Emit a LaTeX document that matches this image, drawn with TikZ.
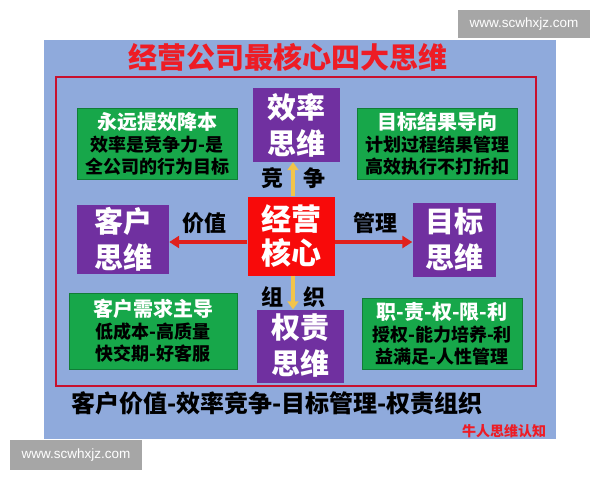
\documentclass[tikz,border=0pt]{standalone}
\usepackage{fontspec}
\setmainfont{Noto Sans CJK SC}
\newfontfamily\webfont{Liberation Sans}
\usetikzlibrary{arrows.meta}

\definecolor{panelblue}{HTML}{8FAADC}
\definecolor{framered}{HTML}{C8102E}
\definecolor{titlered}{HTML}{EE1C25}
\definecolor{thinkpurple}{HTML}{7030A0}
\definecolor{notegreen}{HTML}{17A74A}
\definecolor{corered}{HTML}{F80A0A}
\definecolor{arrowred}{HTML}{E0201C}
\definecolor{arrowgold}{HTML}{F2C44A}
\definecolor{webgray}{HTML}{A6A6A6}

\begin{document}
\begin{tikzpicture}[x=1pt,y=-1pt,
        think/.style={fill=thinkpurple,text=white,align=center,inner sep=0pt,
            minimum width=87pt,minimum height=74pt,font=\bfseries\fontsize{29}{36}\selectfont},
        core/.style={fill=corered,text=white,align=center,inner sep=0pt,
            minimum width=87pt,minimum height=79pt,font=\bfseries\fontsize{30}{34}\selectfont},
        note/.style={fill=notegreen,draw=notegreen!75!black,line width=0.6pt,align=center,
            inner sep=0pt,minimum width=160pt,minimum height=71pt,font=\bfseries\fontsize{18}{22}\selectfont},
        tag/.style={font=\bfseries\fontsize{22}{24}\selectfont},
        side/.style={-{Triangle[length=10pt,width=12pt]},line width=4pt,arrowred},
        vert/.style={-{Triangle[length=8pt,width=11pt]},line width=4pt,arrowgold},
        web/.style={fill=webgray,text=white,inner sep=0pt,font=\webfont\fontsize{13.5}{15}\selectfont}
    ]
        \useasboundingbox (0,0) rectangle (600,480);

        % Background and frame
        \fill[white] (0,0) rectangle (600,480);
        \fill[panelblue] (44,40) rectangle (556,439);
        \draw[framered,line width=2pt] (56,77) rectangle (536,386);

        % Title
        \node[text=titlered,font=\bfseries\fontsize{29}{31}\selectfont] (title) at (288,57) {经营公司最核心四大思维};

        % Define the nodes
        \node[think] (eff) at (296,125) {效率\\思维};
        \node[core] (center) at (291,236) {经营\\核心};
        \node[think,minimum width=92pt,minimum height=69pt] (cust) at (123,239) {客户\\思维};
        \node[think,minimum width=83pt] (goal) at (454,240) {目标\\思维};
        \node[think,minimum height=73pt] (auth) at (300,346) {权责\\思维};

        % Notes
        \node[note] (effnote) at (157,144) {{\color{white}\fontsize{20}{22}\selectfont 永远提效降本}\\效率是竞争力-是\\全公司的行为目标};
        \node[note] (goalnote) at (437,144) {{\color{white}\fontsize{20}{22}\selectfont 目标结果导向}\\计划过程结果管理\\高效执行不打折扣};
        \node[note,minimum width=168pt,minimum height=76pt] (custnote) at (153,331) {{\color{white}\fontsize{20}{22}\selectfont 客户需求主导}\\低成本-高质量\\快交期-好客服};
        \node[note] (authnote) at (442,334) {{\color{white}\fontsize{20}{22}\selectfont 职-责-权-限-利}\\授权-能力培养-利\\益满足-人性管理};

        % Draw the links
        \draw[side] ([yshift=-6pt]center.west) -- ([yshift=-6pt]center.west -| cust.east);
        \draw[side] ([yshift=-6pt]center.east) -- ([yshift=-6pt]center.east -| goal.west);
        \draw[vert] ([xshift=2pt]center.north) -- ([xshift=2pt]center.north |- eff.south);
        \draw[vert] ([xshift=2pt]center.south) -- ([xshift=2pt]center.south |- auth.north);

        % Link labels
        \node[tag] (compA) at (272,178) {竞};
        \node[tag] (compB) at (314,178) {争};
        \node[tag] (value) at (204,223) {价值};
        \node[tag] (manage) at (375,223) {管理};
        \node[tag] (orgA) at (272,297) {组};
        \node[tag] (orgB) at (314,297) {织};

        % Footer
        \node[font=\bfseries\fontsize{24}{26}\selectfont] (motto) at (277,403) {客户价值-效率竞争-目标管理-权责组织};
        \node[text=titlered,font=\bfseries\fontsize{14}{16}\selectfont] (sign) at (504,431) {牛人思维认知};

        % Watermarks
        \node[web,minimum width=132pt,minimum height=28pt] (webtop) at (524,24) {www.scwhxjz.com};
        \node[web,minimum width=132pt,minimum height=30pt] (webbot) at (76,455) {www.scwhxjz.com};
    \end{tikzpicture}
\end{document}
